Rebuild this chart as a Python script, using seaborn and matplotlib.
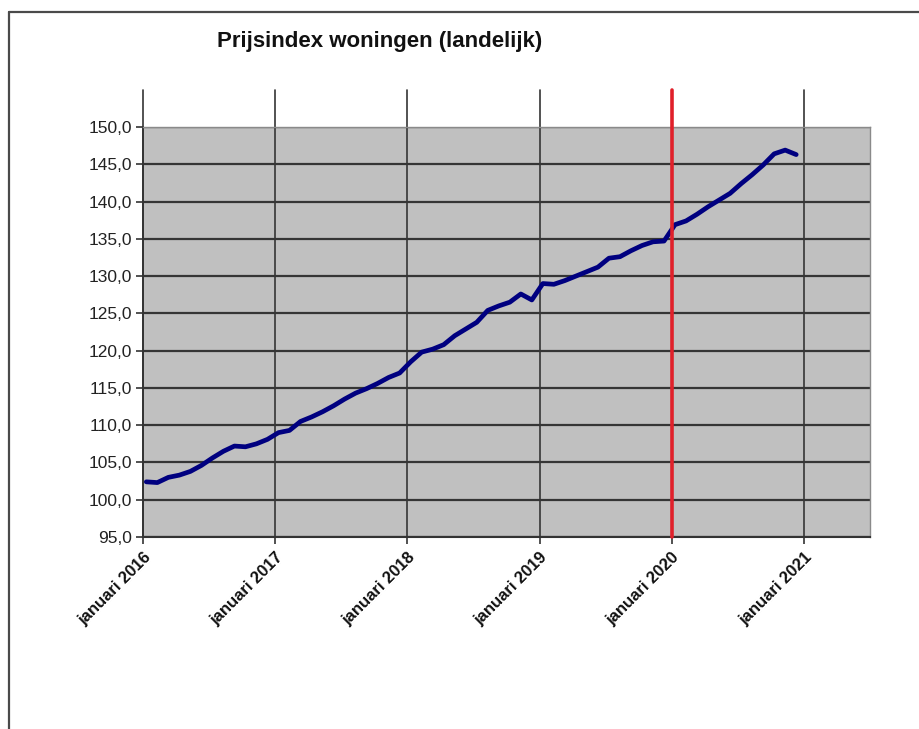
import matplotlib
matplotlib.use("Agg")
import matplotlib.pyplot as plt
import seaborn as sns
import numpy as np
import pandas as pd
from matplotlib.lines import Line2D

# ---- data ----
month_index = list(range(60))  # Jan 2016 .. Dec 2020
index_values = [
    102.4, 102.3, 103.0, 103.3, 103.8, 104.6, 105.6, 106.5, 107.2, 107.1, 107.5, 108.1,
    109.0, 109.3, 110.5, 111.1, 111.8, 112.6, 113.5, 114.3, 114.9, 115.6, 116.4, 117.0,
    118.5, 119.8, 120.2, 120.8, 122.0, 122.9, 123.8, 125.4, 126.0, 126.5, 127.6, 126.8,
    129.0, 128.9, 129.4, 130.0, 130.6, 131.2, 132.4, 132.6, 133.4, 134.1, 134.6, 134.7,
    136.9, 137.4, 138.3, 139.3, 140.2, 141.1, 142.4, 143.6, 144.9, 146.4, 146.9, 146.3,
]
tick_months = [0, 12, 24, 36, 48, 60]
tick_labels = ["januari 2016", "januari 2017", "januari 2018",
               "januari 2019", "januari 2020", "januari 2021"]
y_ticks = [95, 100, 105, 110, 115, 120, 125, 130, 135, 140, 145, 150]
y_labels = ["95,0", "100,0", "105,0", "110,0", "115,0", "120,0", "125,0",
            "130,0", "135,0", "140,0", "145,0", "150,0"]
marker_month = 48  # januari 2020
title = "Prijsindex woningen (landelijk)"

df = pd.DataFrame({"maand": np.array(month_index) + 0.3, "index": index_values})

sns.set_theme(style="white")
plt.rcParams["font.family"] = ["Liberation Sans", "DejaVu Sans"]

fig = plt.figure(figsize=(9.19, 7.29), dpi=100)
ax = fig.add_axes([143 / 919, 1 - 537 / 729, (870 - 143) / 919, (537 - 127) / 729])
ax.set_facecolor("#C0C0C0")

ax.set_xlim(0, 66)
ax.set_ylim(95, 150)

# horizontal grid
for yv in y_ticks:
    ax.axhline(yv, color="#353535", lw=1.6, zorder=1)

# vertical lines at each January, extending above plot area
ext = (537 - 90) / (537 - 127)
for m in tick_months:
    if m == marker_month:
        continue
    ax.axvline(m, ymin=0, ymax=ext, color="#353535", lw=1.2, zorder=1, clip_on=False)

sns.lineplot(data=df, x="maand", y="index", ax=ax, color="#000080", lw=3.4,
             zorder=3, legend=False)

ax.axvline(marker_month, ymin=0, ymax=ext, color="#E0202A", lw=2.6, zorder=4,
           clip_on=False)

ax.set_xticks(tick_months)
ax.set_xticklabels(tick_labels, rotation=45, ha="right", rotation_mode="anchor",
                   fontsize=12, fontweight="bold", color="#111111")
ax.set_yticks(y_ticks)
ax.set_yticklabels(y_labels, fontsize=12.5, color="#222222")
ax.tick_params(axis="x", length=5, width=1.2, color="#333333", pad=4, bottom=True)
ax.tick_params(axis="y", length=5, width=1.2, color="#333333", pad=3, left=True)
ax.set_xlabel("")
ax.set_ylabel("")

for s in ["top", "right"]:
    ax.spines[s].set_color("#8a8a8a")
    ax.spines[s].set_linewidth(1.0)
ax.spines["left"].set_color("#333333")
ax.spines["left"].set_linewidth(1.3)
ax.spines["bottom"].set_color("#333333")
ax.spines["bottom"].set_linewidth(1.5)

fig.text(380 / 919, 1 - 42 / 729, title, ha="center", va="center",
         fontsize=16, fontweight="bold", color="#111111")

# outer frame (top and left edges visible)
fig.add_artist(Line2D([8.5 / 919, 8.5 / 919], [0, 1 - 11.5 / 729],
                      transform=fig.transFigure, color="#4a4a4a", lw=1.6))
fig.add_artist(Line2D([8.5 / 919, 1], [1 - 11.5 / 729, 1 - 11.5 / 729],
                      transform=fig.transFigure, color="#4a4a4a", lw=1.6))

fig.savefig("out.png", dpi=100, facecolor="white")
